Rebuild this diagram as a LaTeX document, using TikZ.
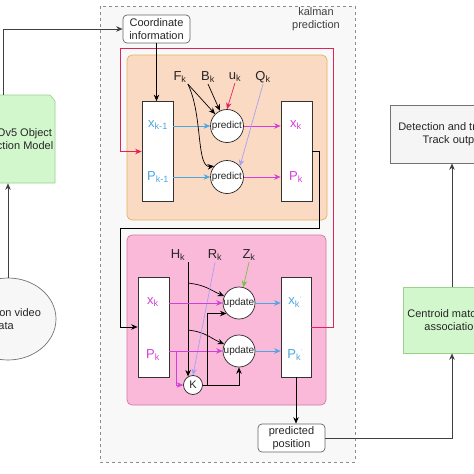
\documentclass[tikz,border=0pt]{standalone}
\usepackage{fontspec}
\setmainfont{Liberation Sans}
\usetikzlibrary{arrows.meta,shapes.geometric,calc}
\definecolor{predfill}{HTML}{FBDAC4}
\definecolor{predline}{HTML}{E3B35A}
\definecolor{updfill}{HTML}{FBB9DA}
\definecolor{updline}{HTML}{D07AA0}
\definecolor{redline}{HTML}{E0245A}
\definecolor{skyline}{HTML}{4CA6E0}
\definecolor{magline}{HTML}{D43FD8}
\definecolor{lavline}{HTML}{A7A0F2}
\definecolor{zline}{HTML}{73C53F}
\definecolor{boxgreen}{HTML}{D3F7CC}
\definecolor{edgegreen}{HTML}{9BD28A}
\definecolor{panelgray}{HTML}{F8F8F8}

\begin{document}
\begin{tikzpicture}[x=1pt, y=-1pt, line width=0.7pt, >={Stealth[length=6.5pt,width=5.5pt]},
    every node/.style={font=\fontsize{11}{13}\selectfont, text=black!85},
    rbox/.style={draw=black!60, rounded corners=4pt, fill=white, align=center,
      minimum width=67pt, minimum height=28pt, inner sep=1pt},
    tallbox/.style={draw=black!80, fill=white, minimum width=31pt, minimum height=100pt, inner sep=0pt},
    ring/.style={circle, draw=black!85, fill=white, minimum size=33pt, inner sep=0pt,
      font=\fontsize{10}{11}\selectfont},
    sym/.style={inner sep=1pt, font=\fontsize{13}{15}\selectfont},
    greenbox/.style={draw=edgegreen, fill=boxgreen},
    graybox/.style={draw=black!55, fill=black!4, align=center}]
  \useasboundingbox (0,0) rectangle (474,474);
  \fill[white] (0,0) rectangle (474,474);
  \clip (0,0) rectangle (474,474);

  % kalman panel
  \draw[black!45, dashed, fill=panelgray] (100,6) rectangle (355,462);
  \node[align=center, text=black!75] (kal) at (316,19) {kalman\\prediction};
  \draw[predline, fill=predfill, rounded corners=5pt] (127,55) rectangle (327,220);
  \draw[updline, fill=updfill, rounded corners=5pt] (127,235) rectangle (326,405);

  % outside boxes
  \draw[greenbox] (-28,95) -- (50,95) -- (55,101) -- (55,183) -- (-28,183) -- cycle;
  \node[align=center, minimum width=83pt, minimum height=88pt] (yolo) at (13.5,139) {YOLOv5 Object\\Detection Model};
  \node[ellipse, draw=black!55, fill=black!3, align=center, minimum width=96pt, minimum height=82pt] (video) at (8,319) {};
  \node[align=center] (vidtext) at (3,319) {Detection video\\data};
  \node[graybox, minimum width=126pt, minimum height=58pt] (det) at (453,134) {Detection and tracking\\Track output};
  \node[greenbox, align=center, minimum width=98pt, minimum height=66pt] (cent) at (452,320) {Centroid matching\\association};
  \node[rbox] (coord) at (156.5,29) {Coordinate\\information};
  \node[rbox] (ppos) at (291.5,438) {predicted\\position};

  % prediction step
  \node[tallbox] (prevbox) at (157.5,151.5) {};
  \node[sym, text=skyline] (xprev) at (158,125) {x\textsubscript{k-1}};
  \node[sym, text=skyline] (Pprev) at (158,177) {P\textsubscript{k-1}};
  \node[tallbox] (nextbox) at (296.5,151.5) {};
  \node[sym, text=magline] (xk) at (296,125) {x\textsubscript{k}};
  \node[sym, text=magline] (Pk) at (296,177) {P\textsubscript{k}};
  \node[ring] (pred1) at (227,126) {predict};
  \node[ring] (pred2) at (227,177) {predict};
  \node[sym] (Fk) at (180,77) {F\textsubscript{k}};
  \node[sym] (Bk) at (208,77) {B\textsubscript{k}};
  \node[sym] (uk) at (235,77) {u\textsubscript{k}};
  \node[sym] (Qk) at (263,77) {Q\textsubscript{k}};

  \draw[skyline, ->] (prevbox.east |- pred1) -- (pred1.west);
  \draw[skyline, ->] (prevbox.east |- pred2) -- (pred2.west);
  \draw[magline, ->] (pred1.east) -- (pred1 -| nextbox.west);
  \draw[magline, ->] (pred2.east) -- (pred2 -| nextbox.west);
  \draw[->] (Fk.south east) -- (pred1.135);
  \draw[->] (Fk.south east) .. controls (203,115) and (196,168) .. (pred2.140);
  \draw[->] (Bk.south) -- (pred1.115);
  \draw[redline, ->] (uk.south) -- (pred1.north);
  \draw[lavline, ->] (Qk.south) -- (pred2.40);

  % update step
  \node[tallbox] (ubox) at (153.5,327) {};
  \node[sym, text=magline] (ux) at (153,302) {x\textsubscript{k}};
  \node[sym, text=magline] (uP) at (153,355) {P\textsubscript{k}};
  \node[tallbox, minimum width=30pt] (obox) at (296,327) {};
  \node[sym, text=skyline] (ox) at (295,302) {x\textsubscript{k}\textsuperscript{\tiny'}};
  \node[sym, text=skyline] (oP) at (295,355) {P\textsubscript{k}\textsuperscript{\tiny'}};
  \node[ring, minimum size=32pt] (upd1) at (239,303) {update};
  \node[ring, minimum size=32pt] (upd2) at (239,351) {update};
  \node[circle, draw=black!85, fill=white, minimum size=19pt, inner sep=0pt] (K) at (193,385) {K};
  \node[sym] (Hk) at (178,255) {H\textsubscript{k}};
  \node[sym] (Rk) at (215,255) {R\textsubscript{k}};
  \node[sym] (Zk) at (249,255) {Z\textsubscript{k}};

  \coordinate (hline) at (Hk.south -| K.120);
  \draw[->] (hline) -- (K.120);
  \draw[->] ([yshift=-21pt]hline) .. controls +(18,2) and +(-14,-6) .. (upd1.155);
  \draw[->] ([yshift=-68pt]hline) .. controls +(18,2) and +(-14,-6) .. (upd2.155);
  \draw[lavline, ->] (Rk.south) -- (K.north);
  \draw[zline, ->] (Zk.south) -- (upd1.75);
  \draw[magline, ->] (ubox.east |- upd1) -- (upd1.west);
  \draw[magline, ->] (ubox.east |- upd2) -- (upd2.west);
  \draw[magline, ->] ([xshift=7pt]ubox.east |- upd2) |- (K.west);
  \draw[->] (K.east) -| (upd2.south);
  \draw[->] ([xshift=4.5pt]K.east) |- (upd1.220);
  \draw[skyline, ->] (upd1.east) -- (upd1 -| obox.west);
  \draw[skyline, ->] (upd2.east) -- (upd2 -| obox.west);

  % links between steps
  \draw[->] (nextbox.east) -| ++(7,77) -| ([xshift=-17pt]ubox.west) -- (ubox.west);
  \draw[redline, ->] (obox.east) -| ++(22,-279) -| ([xshift=-21pt]prevbox.west) -- (prevbox.west);

  % outer flow
  \draw[black!75, ->] ([xshift=-10.5pt]yolo.north) |- (coord.west);
  \draw[black!75, ->] (video.north) -- (video.north |- yolo.south);
  \draw[->] (coord.south) -- (coord.south |- prevbox.north);
  \draw[->] (obox.south) -- (obox.south |- ppos.north);
  \draw[black!75, ->] (ppos.east) -| (cent.south);
  \draw[black!75, ->] (cent.north) -- (cent.north |- det.south);
\end{tikzpicture}
\end{document}
